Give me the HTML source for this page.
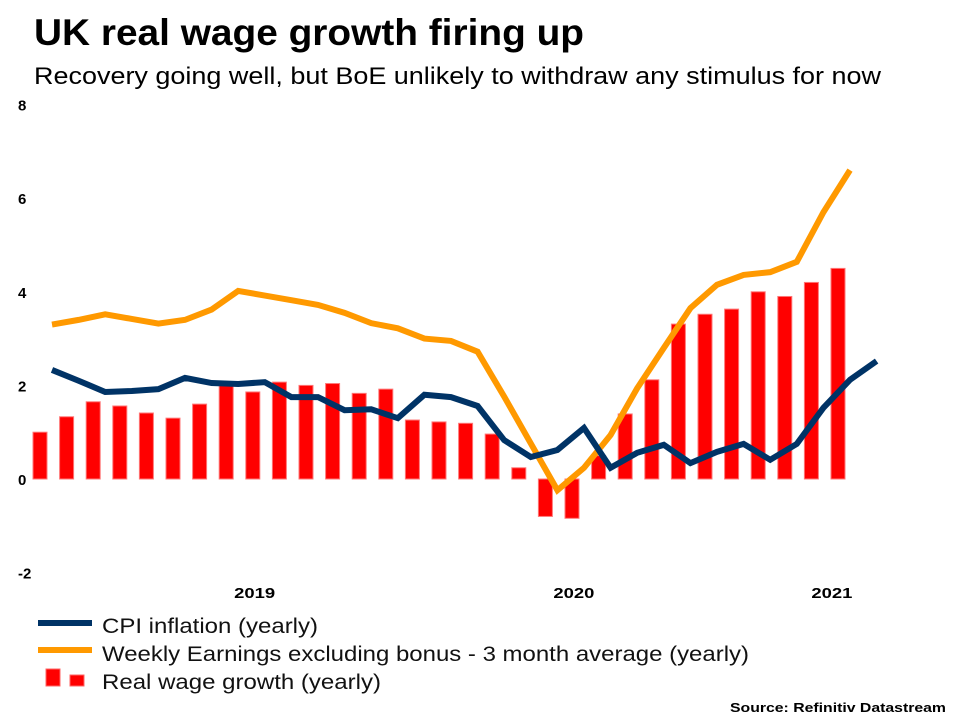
<!DOCTYPE html>
<html><head><meta charset="utf-8"><style>
body{margin:0;background:#fff;font-family:"Liberation Sans",sans-serif;}
svg text{font-family:"Liberation Sans",sans-serif;}
</style></head><body>
<svg id="chart" width="960" height="720" xmlns="http://www.w3.org/2000/svg">
<text x="34" y="45" font-size="37" font-weight="bold" fill="#000" textLength="550" lengthAdjust="spacingAndGlyphs">UK real wage growth firing up</text>
<text x="34" y="84" font-size="24" fill="#000" textLength="847" lengthAdjust="spacingAndGlyphs">Recovery going well, but BoE unlikely to withdraw any stimulus for now</text>
<g id="yaxis"></g>
<g id="xaxis"></g>
<g id="bars"></g>
<g id="lines"></g>
<g>
 <line x1="38" y1="623" x2="92" y2="623" stroke="#003366" stroke-width="6"/>
 <text x="102" y="633" font-size="21" fill="#111" textLength="216" lengthAdjust="spacingAndGlyphs">CPI inflation (yearly)</text>
 <line x1="38" y1="650" x2="92" y2="650" stroke="#ff9900" stroke-width="6"/>
 <text x="102" y="661" font-size="21" fill="#111" textLength="647" lengthAdjust="spacingAndGlyphs">Weekly Earnings excluding bonus - 3 month average (yearly)</text>
 <rect x="46" y="669" width="14" height="17" fill="#ff0000" stroke="#ff6666" stroke-width="1"/>
 <rect x="70" y="675" width="14" height="11" fill="#ff0000" stroke="#ff6666" stroke-width="1"/>
 <text x="102" y="689" font-size="21" fill="#111" textLength="279" lengthAdjust="spacingAndGlyphs">Real wage growth (yearly)</text>
</g>
<text x="730" y="712" font-size="13" font-weight="bold" fill="#000" textLength="216" lengthAdjust="spacingAndGlyphs">Source: Refinitiv Datastream</text>
</svg>
<script>
const yTicks=[8,6,4,2,0,-2];
const xTickLabels=["2019","2020","2021"];
const xTickIndex=[7.6,19.6,29.3];
const realWage=[1.0,1.33,1.65,1.56,1.41,1.3,1.6,2.02,1.86,2.07,2.0,2.04,1.83,1.92,1.26,1.22,1.19,0.96,0.24,-0.8,-0.84,0.5,1.39,2.12,3.31,3.52,3.63,4.0,3.9,4.2,4.5];
const earnings=[3.3,3.4,3.52,3.42,3.32,3.4,3.62,4.02,3.92,3.82,3.72,3.55,3.33,3.22,3.0,2.95,2.72,1.76,0.76,-0.24,0.24,0.94,1.94,2.8,3.65,4.15,4.36,4.42,4.64,5.7,6.6];
const cpi=[2.33,2.1,1.86,1.88,1.92,2.16,2.05,2.03,2.07,1.75,1.75,1.47,1.49,1.3,1.8,1.75,1.56,0.83,0.47,0.62,1.09,0.24,0.56,0.73,0.34,0.58,0.75,0.41,0.75,1.52,2.12,2.52];
const NS="http://www.w3.org/2000/svg";
const y=v=>479-v*46.8;
const x=i=>52+i*26.6;
function mk(t,a,p){const e=document.createElementNS(NS,t);for(const k in a)e.setAttribute(k,a[k]);p.appendChild(e);return e;}
const ya=document.getElementById('yaxis');
yTicks.forEach(v=>{const t=mk('text',{x:18,y:y(v)+6,'font-size':15,'font-weight':'bold',fill:'#000'},ya);


t.textContent=v;});
const xa=document.getElementById('xaxis');
xTickLabels.forEach((l,k)=>{const t=mk('text',{x:x(xTickIndex[k])-20,y:598,'font-size':15,'font-weight':'bold',fill:'#000',textLength:41,lengthAdjust:'spacingAndGlyphs'},xa);


t.textContent=l;});
const bg=document.getElementById('bars');
realWage.forEach((v,j)=>{const cx=x(j)-12;const top=Math.min(y(v),y(0)),h=Math.abs(y(v)-y(0));
const r=mk('rect',{x:cx-7,y:top,width:14,height:h,fill:'#ff0000',stroke:'#ff7777','stroke-width':1},bg);

});
const lg=document.getElementById('lines');
function line(arr,col,name){const p=mk('polyline',{points:arr.map((v,i)=>x(i)+','+y(v)).join(' '),fill:'none',stroke:col,'stroke-width':6,'stroke-linejoin':'miter'},lg);

}
line(earnings,'#ff9900','earnings-line');
line(cpi,'#003366','cpi-line');
</script>
</body></html>
